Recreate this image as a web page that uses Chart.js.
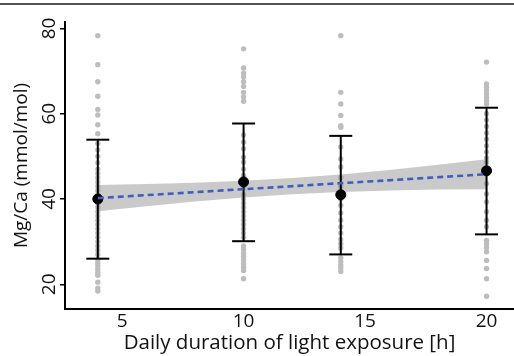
<!DOCTYPE html>
<html>
<head>
<meta charset="utf-8">
<script src="https://cdn.jsdelivr.net/npm/chart.js@4.4.1/dist/chart.umd.min.js"></script>
<style>
  body { margin: 0; background: #fff; overflow: hidden; }
  #wrap { position: relative; width: 514px; height: 356px; }
  #topRule { position: absolute; left: 0; top: 3px; width: 514px; border-top: 2px solid #555; }
</style>
</head>
<body>
<div id="wrap">
  <div id="topRule"></div>
  <canvas id="mgChart" width="514" height="356"></canvas>
</div>
<script>
// light exposure groups (hours)
const groupX = [4, 10, 14, 20];

// individual Mg/Ca measurements per group (mmol/mol)
const dots4 = [78.3, 71.5, 67.5, 64.1, 61.0, 59.7, 57.4, 55.3, 53.0, 51.5, 50.0, 48.5, 47.0, 46.0,
  45.0, 44.0, 43.0, 42.0, 41.0, 40.0, 39.0, 38.0, 37.0, 36.0, 35.0, 34.0, 33.0, 32.0, 31.0, 30.0,
  29.0, 28.0, 27.0, 25.8, 25.0, 24.3, 23.5, 22.8, 22.1, 20.5, 19.1, 18.4];
const dots10 = [75.2, 70.7, 69.5, 68.6, 67.5, 66.4, 65.0, 63.9, 62.9, 55.0, 53.3, 51.8, 49.8, 48.6,
  47.0, 45.5, 44.0, 42.5, 41.0, 40.0, 39.0, 38.0, 37.0, 36.0, 35.0, 34.0, 33.0, 32.0, 31.0,
  29.0, 28.2, 27.3, 26.5, 25.7, 24.8, 24.0, 23.2, 21.3];
const dots14 = [78.3, 65.0, 62.3, 59.6, 57.2, 56.8, 52.2, 49.4, 47.5, 45.0, 43.0, 40.0, 38.5, 36.7,
  35.0, 33.5, 32.0, 30.5, 29.5, 28.5, 26.2, 25.3, 24.5, 23.8, 23.0];
const dots20 = [72.1, 67.0, 66.2, 65.4, 64.6, 63.8, 63.1, 62.3, 60.0, 58.5, 57.0, 55.5, 54.0, 52.5,
  51.0, 49.6, 48.6, 43.6, 41.2, 39.3, 37.0, 35.0, 33.5, 30.3, 29.5, 28.6, 27.6, 25.6, 23.7, 21.3, 17.2];

// group mean and error bar ends
const groupMean = [40.0, 44.0, 41.0, 46.6];
const barLow = [26.0, 30.1, 27.0, 31.7];
const barHigh = [53.9, 57.7, 54.8, 61.4];

// linear fit and its confidence band
const fitX = [4, 20];
const fitY = [40.2, 45.8];
const bandX = [4, 6, 8, 10, 12, 14, 16, 18, 20];
const bandHigh = [43.25, 43.5, 43.8, 44.25, 44.9, 45.75, 46.8, 48.0, 49.3];
const bandLow = [37.15, 38.3, 39.4, 40.35, 41.1, 41.65, 42.0, 42.2, 42.3];

const xTicks = [5, 10, 15, 20];
const yTicks = [20, 40, 60, 80];

const FONT = '"Open Sans", sans-serif';
const allDots = [dots4, dots10, dots14, dots20];

function pts(xs, ys) {
    return ys.map((y, i) => ({ x: xs[i], y: y }));
}

let datasets = [];

// fitted line on top
datasets.push({
    data: pts(fitX, fitY),
    showLine: true,
    borderColor: "#3f5fc0",
    borderWidth: 2.6,
    borderDash: [6, 4],
    pointRadius: 0,
    order: 1
});

// group means
datasets.push({
    data: pts(groupX, groupMean),
    backgroundColor: "#000",
    borderColor: "#000",
    pointRadius: 5,
    order: 2
});

// error bars, caps drawn as 'line' point style
groupX.forEach((x, i) => {
    datasets.push({
        data: [{ x: x, y: barLow[i] }, { x: x, y: barHigh[i] }],
        showLine: true,
        borderColor: "#000",
        borderWidth: 2,
        pointStyle: "line",
        pointRadius: 11.5,
        pointBorderWidth: 2,
        pointBorderColor: "#000",
        order: 3
    });
});

// confidence band
datasets.push({
    data: pts(bandX, bandHigh),
    showLine: true,
    borderWidth: 0,
    borderColor: "rgba(0,0,0,0)",
    backgroundColor: "rgba(150,150,150,0.5)",
    fill: "+1",
    pointRadius: 0,
    order: 4
});
datasets.push({
    data: pts(bandX, bandLow),
    showLine: true,
    borderWidth: 0,
    borderColor: "rgba(0,0,0,0)",
    pointRadius: 0,
    order: 4
});

// raw measurements at the back
allDots.forEach((vals, i) => {
    datasets.push({
        data: vals.map(v => ({ x: groupX[i], y: v })),
        backgroundColor: "#bdbdbd",
        borderWidth: 0,
        pointRadius: 2.7,
        order: 5
    });
});

// y tick labels are rotated in the original, so draw them here
const rotatedYTicks = {
    id: "rotatedYTicks",
    afterDraw(chart) {
        const yScale = chart.scales.y;
        const ctx = chart.ctx;
        ctx.save();
        ctx.font = "19px " + FONT;
        ctx.fillStyle = "#111";
        ctx.textAlign = "center";
        ctx.textBaseline = "alphabetic";
        yScale.ticks.forEach(t => {
            const py = yScale.getPixelForValue(t.value);
            ctx.save();
            ctx.translate(yScale.right - 10, py);
            ctx.rotate(-Math.PI / 2);
            ctx.fillText(String(t.value), 0, 0);
            ctx.restore();
        });
        ctx.restore();
    }
};

new Chart(document.getElementById("mgChart"), {
    type: "scatter",
    data: { datasets: datasets },
    options: {
        responsive: false,
        animation: false,
        events: [],
        layout: { autoPadding: false, padding: { top: 22, right: 0, left: 0, bottom: 0 } },
        plugins: { legend: { display: false }, tooltip: { enabled: false } },
        scales: {
            x: {
                type: "linear",
                min: 2.65,
                max: 21.13,
                afterBuildTicks: s => { s.ticks = xTicks.map(v => ({ value: v })); },
                afterFit: s => { s.height = 47; s.paddingLeft = 0; s.paddingRight = 0; },
                grid: { display: false, drawTicks: false },
                border: { display: true, color: "#000", width: 2 },
                ticks: { color: "#111", font: { family: FONT, size: 19 }, padding: 1 },
                title: {
                    display: true,
                    text: "Daily duration of light exposure [h]",
                    color: "#111",
                    font: { family: FONT, size: 20.5 },
                    padding: { top: 0, bottom: 1 }
                }
            },
            y: {
                type: "linear",
                min: 14.2,
                max: 81.5,
                afterBuildTicks: s => { s.ticks = yTicks.map(v => ({ value: v })); },
                afterFit: s => { s.width = 65; s.paddingTop = 0; s.paddingBottom = 0; },
                grid: { drawOnChartArea: false, drawTicks: true, tickLength: 5, color: "#000", lineWidth: 1.5 },
                border: { display: true, color: "#000", width: 2 },
                ticks: { display: false },
                title: {
                    display: true,
                    text: "Mg/Ca (mmol/mol)",
                    color: "#111",
                    font: { family: FONT, size: 19 },
                    padding: { top: 10, bottom: 0 }
                }
            }
        }
    },
    plugins: [rotatedYTicks]
});
</script>
</body>
</html>
